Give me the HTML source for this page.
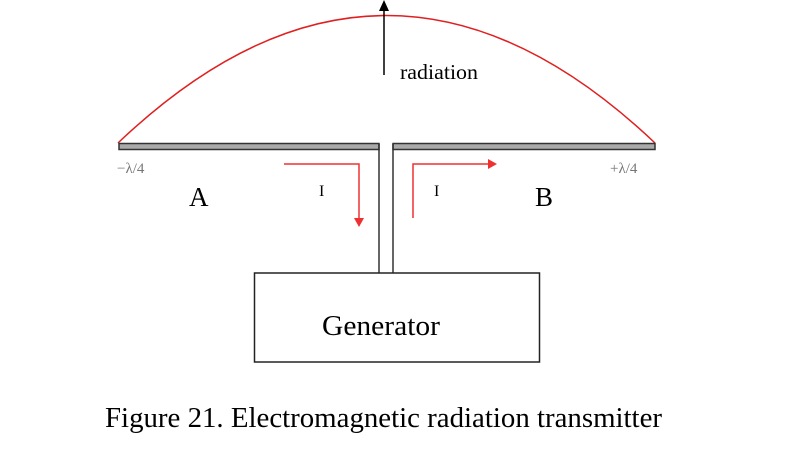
<!DOCTYPE html>
<html><head><style>
html,body{margin:0;padding:0;background:#fff;width:800px;height:476px;overflow:hidden}
svg{display:block}
</style></head><body>
<svg width="800" height="476" viewBox="0 0 800 476" xmlns="http://www.w3.org/2000/svg">
<path d="M118 143 Q386 -112 655 143" fill="none" stroke="#e02020" stroke-width="1.5"/>
<line x1="384" y1="75" x2="384" y2="8" stroke="#000" stroke-width="1.5"/>
<polygon points="384,0 379,11 389,11" fill="#000"/>
<rect x="119" y="143.5" width="260" height="6" fill="#aaa" stroke="#333" stroke-width="1.5"/>
<rect x="393" y="143.5" width="262" height="6" fill="#aaa" stroke="#333" stroke-width="1.5"/>
<line x1="379" y1="144" x2="379" y2="273" stroke="#333" stroke-width="1.5"/>
<line x1="393" y1="144" x2="393" y2="273" stroke="#333" stroke-width="1.5"/>
<rect x="254.5" y="273" width="285" height="89" fill="#fff" stroke="#222" stroke-width="1.5"/>
<polyline points="284,164 359,164 359,220" fill="none" stroke="#f03030" stroke-width="1.5"/>
<polygon points="354,218 364,218 359,227" fill="#f03030"/>
<polyline points="413,218 413,164 490,164" fill="none" stroke="#f03030" stroke-width="1.5"/>
<polygon points="488,159 488,169 497,164" fill="#f03030"/>
<g font-family="Liberation Serif, serif" fill="#000">
<text x="400" y="79" font-size="21" textLength="78" lengthAdjust="spacingAndGlyphs">radiation</text>
<text x="117" y="173" font-size="15" fill="#777">−λ/4</text>
<text x="610" y="173" font-size="15" fill="#777">+λ/4</text>
<text x="189" y="206" font-size="27">A</text>
<text x="535" y="206" font-size="27">B</text>
<text x="319" y="196" font-size="16">I</text>
<text x="434" y="196" font-size="16">I</text>
<text x="322" y="335" font-size="28" textLength="118" lengthAdjust="spacingAndGlyphs">Generator</text>
<text x="105" y="427" font-size="29" textLength="557" lengthAdjust="spacingAndGlyphs">Figure 21. Electromagnetic radiation transmitter</text>
</g>
</svg>
</body></html>
